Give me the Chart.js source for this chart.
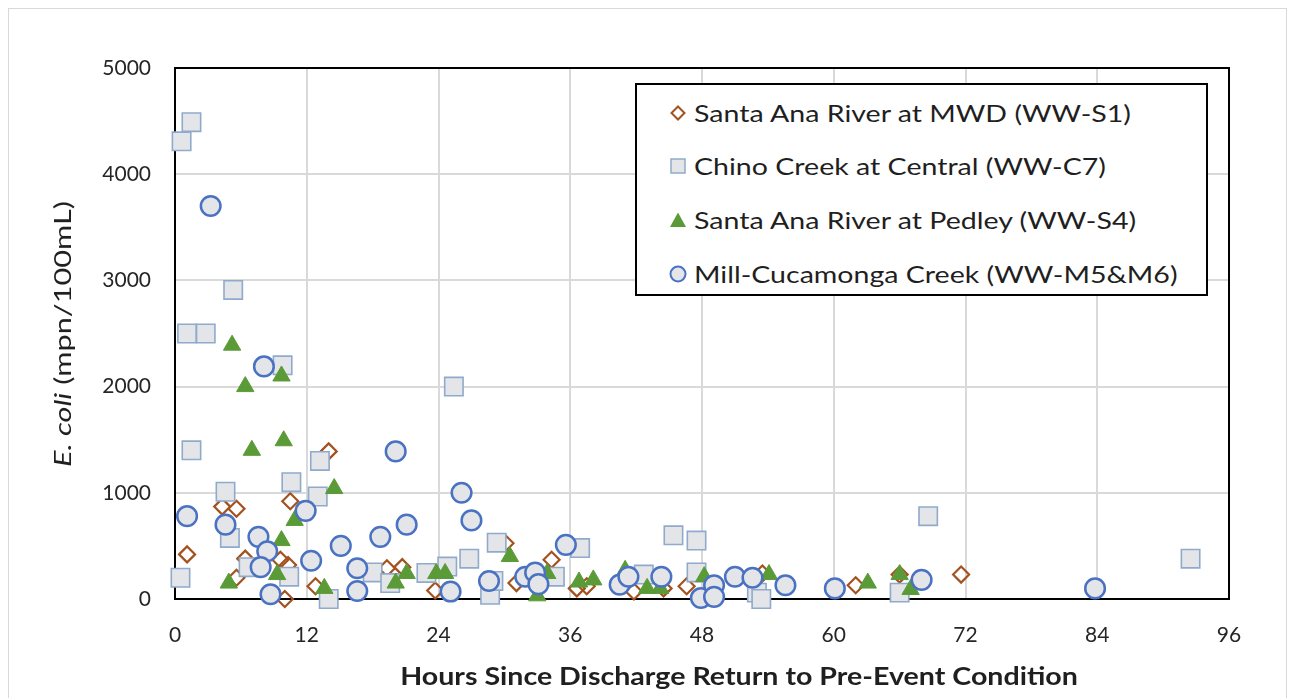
<!DOCTYPE html>
<html>
<head>
<meta charset="utf-8">
<script src="https://cdn.jsdelivr.net/npm/chart.js@4.4.1/dist/chart.umd.min.js"></script>
<style>
  html, body { margin: 0; padding: 0; background: #fff; }
  #wrap { position: relative; width: 1292px; height: 698px; overflow: hidden; background: #fff; }
  #frame { position: absolute; left: 8px; top: 8px; width: 1279px; height: 720px; border: 1px solid #d9d9d9; box-sizing: border-box; }
  #c { position: absolute; left: 0; top: 0; }
  .txt { font-family: Lato, sans-serif; color: #1f1f1f; white-space: nowrap; }
  #ytitle { position: absolute; left: 62px; top: 334px; font-size: 24px; line-height: 28px; }
  #xtitle { position: absolute; left: 739px; top: 675px; font-size: 25px; line-height: 30px; font-weight: bold; }
  #legend { position: absolute; left: 635px; top: 83px; width: 573px; height: 213px; border: 2px solid #000;
            box-sizing: border-box; background: #fff; }
  .row { position: absolute; left: 0; width: 100%; height: 30px; }
  .row svg { position: absolute; left: 31px; top: 5px; }
  .row span { position: absolute; left: 57px; top: 0; line-height: 30px; font-size: 24px; transform-origin: 0 50%; }
</style>
</head>
<body>
<div id="wrap">
  <div id="frame"></div>
  <canvas id="c" width="1292" height="698"></canvas>
  <div id="ytitle" class="txt"><i>E. coli</i> (mpn/100mL)</div>
  <div id="xtitle" class="txt"></div>
  <div id="legend"></div>
</div>
<script>
// ---- data (hours since discharge return, E. coli mpn/100mL) ----
const seriesNames = [
  'Santa Ana River at MWD (WW-S1)',
  'Chino Creek at Central (WW-C7)',
  'Santa Ana River at Pedley (WW-S4)',
  'Mill-Cucamonga Creek (WW-M5&M6)'
];
const s1Hours = [1.1, 4.3, 5.6, 10.5, 14.0, 6.4, 9.6, 10.3, 5.6, 10.0, 12.8, 19.3, 20.7, 23.7, 30.1, 31.1, 34.3, 36.6, 37.5, 41.8, 44.5, 46.6, 53.5, 62.0, 66.0, 71.6];
const s1Ecoli = [420, 870, 850, 920, 1390, 380, 370, 320, 200, 0, 120, 290, 300, 80, 525, 150, 370, 100, 120, 70, 100, 120, 240, 130, 230, 230];

const c7Hours = [0.6, 1.5, 1.1, 2.8, 5.3, 9.8, 1.5, 25.4, 4.6, 10.6, 13.2, 13.0, 5.0, 6.7, 10.4, 0.5, 14.0, 18.0, 19.6, 22.9, 24.8, 26.8, 29.3, 28.7, 29.0, 34.6, 36.9, 42.7, 45.4, 47.5, 47.5, 53.0, 53.4, 66.0, 68.6, 92.5];
const c7Ecoli = [4310, 4490, 2500, 2500, 2910, 2200, 1400, 2000, 1010, 1100, 1300, 965, 575, 300, 210, 200, 0, 250, 150, 245, 305, 380, 530, 40, 170, 210, 480, 230, 600, 550, 250, 60, 0, 60, 780, 380];

const s4Hours = [5.2, 9.7, 6.4, 7.0, 9.9, 14.5, 10.9, 9.7, 9.3, 4.9, 13.6, 20.1, 21.1, 23.8, 24.6, 30.5, 33.0, 33.9, 36.8, 38.1, 41.0, 43.0, 44.2, 48.2, 54.1, 63.1, 66.0, 67.0];
const s4Ecoli = [2390, 2100, 2000, 1400, 1490, 1040, 740, 550, 230, 150, 100, 150, 240, 240, 240, 400, 30, 240, 160, 180, 270, 100, 100, 210, 230, 150, 230, 90];

const m5Hours = [3.25, 8.1, 20.1, 1.1, 4.6, 11.9, 26.1, 27.0, 21.1, 18.7, 15.1, 12.4, 7.6, 8.4, 7.8, 16.6, 16.6, 8.7, 25.1, 28.6, 31.9, 32.8, 33.1, 35.6, 40.5, 41.3, 44.3, 47.9, 49.1, 49.1, 51.0, 52.6, 55.6, 60.1, 68.0, 83.8];
const m5Ecoli = [3700, 2190, 1390, 780, 700, 830, 1000, 740, 700, 585, 500, 360, 585, 450, 300, 290, 75, 45, 70, 170, 210, 250, 140, 510, 135, 210, 210, 10, 130, 20, 210, 200, 130, 100, 180, 100];

const xTicks = [0, 12, 24, 36, 48, 60, 72, 84, 96];
const yTicks = [0, 1000, 2000, 3000, 4000, 5000];
const xTitle = 'Hours Since Discharge Return to Pre-Event Condition';

// ---- styles ----
const FONT = 'Lato, sans-serif';
const styles = [
  { pointStyle: 'rectRot', radius: 8, bg: 'rgba(255,255,255,0)', border: '#a3511f', bw: 2.2, order: 4 },
  { pointStyle: 'rect', radius: 13, bg: '#e4e5e8', border: '#8faacb', bw: 1.6, order: 3 },
  { pointStyle: 'triangle', radius: 10, bg: '#5b9b37', border: '#5b9b37', bw: 1, order: 2 },
  { pointStyle: 'circle', radius: 9.8, bg: '#e4e5e8', border: '#4a72c2', bw: 2.5, order: 1 }
];
const pairs = [[s1Hours, s1Ecoli], [c7Hours, c7Ecoli], [s4Hours, s4Ecoli], [m5Hours, m5Ecoli]];

const datasets = pairs.map((p, i) => ({
  label: seriesNames[i],
  data: p[0].map((h, k) => ({ x: h, y: p[1][k] })),
  pointStyle: styles[i].pointStyle,
  pointRadius: styles[i].radius,
  pointBackgroundColor: styles[i].bg,
  pointBorderColor: styles[i].border,
  pointBorderWidth: styles[i].bw,
  showLine: false,
  clip: false,
  order: styles[i].order
}));

const frameBox = {
  id: 'frameBox',
  beforeDatasetsDraw(chart) {
    const { ctx, chartArea: a } = chart;
    ctx.save();
    ctx.strokeStyle = '#000';
    ctx.lineWidth = 2;
    ctx.strokeRect(a.left, a.top, a.right - a.left, a.bottom - a.top);
    ctx.restore();
  }
};

new Chart(document.getElementById('c'), {
  type: 'scatter',
  data: { datasets },
  plugins: [frameBox],
  options: {
    responsive: false,
    animation: false,
    events: [],
    layout: { padding: { left: 0, top: 68, right: 63, bottom: 6 } },
    plugins: { legend: { display: false }, tooltip: { enabled: false } },
    scales: {
      x: {
        type: 'linear', min: xTicks[0], max: xTicks[xTicks.length - 1],
        afterBuildTicks(s) { s.ticks = xTicks.map(v => ({ value: v })); },
        afterFit(s) { s.height = 93; },
        ticks: { font: { family: FONT, size: 21 }, color: '#262626', padding: 24, maxRotation: 0 },
        grid: { color: '#d9d9d9', lineWidth: 2, drawTicks: false },
        border: { display: false }
      },
      y: {
        type: 'linear', min: yTicks[0], max: yTicks[yTicks.length - 1],
        afterBuildTicks(s) { s.ticks = yTicks.map(v => ({ value: v })); },
        afterFit(s) { s.width = 175; },
        ticks: { font: { family: FONT, size: 21 }, color: '#262626', padding: 24, callback: v => String(v) },
        grid: { color: '#d9d9d9', lineWidth: 2, drawTicks: false },
        border: { display: false }
      }
    }
  }
});

// ---- titles (HTML text, stretched to the reference's proportions) ----
const xt = document.getElementById('xtitle');
xt.textContent = xTitle;
const xw = xt.offsetWidth;
xt.style.transform = 'translate(-50%, -50%) scaleX(' + (678 / xw) + ')';
const yt = document.getElementById('ytitle');
const yw = yt.offsetWidth;
yt.style.transform = 'translate(-50%, -50%) rotate(-90deg) scaleX(' + (266 / yw) + ')';

// ---- legend (HTML) ----
const markerSvgs = [
  '<svg width="20" height="20"><polygon points="10,3.5 16.5,10 10,16.5 3.5,10" fill="none" stroke="#a3511f" stroke-width="2"/></svg>',
  '<svg width="20" height="20"><rect x="3" y="3" width="14" height="14" fill="#e4e5e8" stroke="#8faacb" stroke-width="1.5"/></svg>',
  '<svg width="20" height="20"><polygon points="10,2.5 18,17 2,17" fill="#5b9b37"/></svg>',
  '<svg width="20" height="20"><circle cx="10" cy="10" r="7.5" fill="#e4e5e8" stroke="#4a72c2" stroke-width="2"/></svg>'
];
const rowTops = [13, 66, 120, 174];
const leg = document.getElementById('legend');
const spans = [];
seriesNames.forEach((n, i) => {
  const r = document.createElement('div');
  r.className = 'row';
  r.style.top = rowTops[i] + 'px';
  r.innerHTML = markerSvgs[i] + '<span class="txt"></span>';
  const sp = r.querySelector('span');
  sp.textContent = n;
  leg.appendChild(r);
  spans.push(sp);
});
const legScale = 483 / spans[3].offsetWidth;
spans.forEach(sp => { sp.style.transform = 'scaleX(' + legScale + ')'; });
</script>
</body>
</html>
